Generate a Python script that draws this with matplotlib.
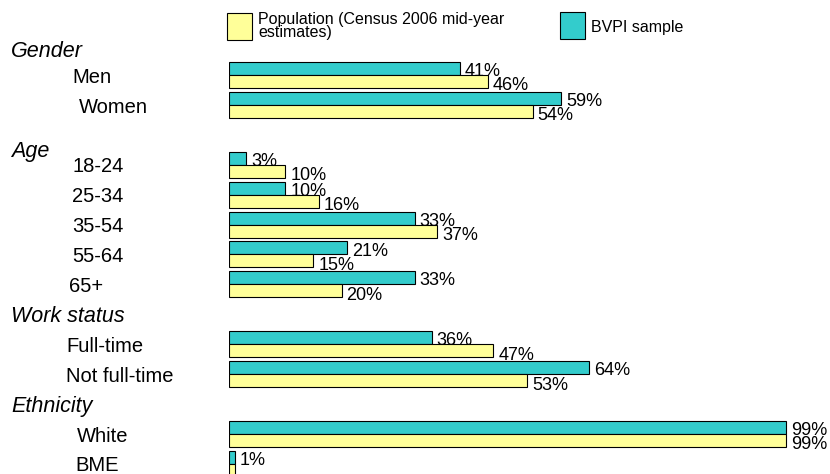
import matplotlib
matplotlib.use("Agg")
import matplotlib.pyplot as plt
from matplotlib.patches import Rectangle
from matplotlib.transforms import blended_transform_factory

# Dados
groups = ["Gender", "Age", "Work status", "Ethnicity"]
group_sizes = [2, 5, 2, 2]
categories = ["Men", "Women", "18-24", "25-34", "35-54", "55-64", "65+",
              "Full-time", "Not full-time", "White", "BME"]
bvpi = [41, 59, 3, 10, 33, 21, 33, 36, 64, 99, 1]
population = [46, 54, 10, 16, 37, 15, 20, 47, 53, 99, 1]

teal = "#33CCCC"
yellow = "#FFFF99"

plt.rcParams['font.family'] = ['Liberation Sans', 'DejaVu Sans']

W, H = 830, 474
fig = plt.figure(figsize=(W / 100, H / 100), dpi=100)

# eixo ocupando a area das barras (x = 0% em 229 px, 5.626 px por %)
ax = fig.add_axes([229 / W, 0, 1 - 229 / W, 1])
ax.set_xlim(0, (W - 229) / 5.626)
slot = 29.9  # px por linha
ax.set_ylim((H - 75) / slot, -75 / slot)
ax.axis('off')

bar_h = 13 / slot

# posicao das linhas: um espaco vazio antes de cada grupo (titulo)
rows = []
header_rows = []
pos = -1
for size in group_sizes:
    header_rows.append(pos)
    rows.extend(range(pos + 1, pos + 1 + size))
    pos = pos + 1 + size

# ajustes finos dos titulos e posicoes x dos rotulos (px)
header_nudge = [0.13, 0.47, 0.0, 0.0]
label_x = [72, 79, 72, 72, 72, 72, 69, 66, 66, 77, 75]

ax.barh([r - bar_h / 2 for r in rows], bvpi, height=bar_h, left=0,
        color=teal, edgecolor='black', linewidth=0.8)
ax.barh([r + bar_h / 2 for r in rows], population, height=bar_h, left=0,
        color=yellow, edgecolor='black', linewidth=0.8)

for r, b, p in zip(rows, bvpi, population):
    ax.annotate(f"{b}%", xy=(b, r), xytext=(3.6, -0.8), textcoords='offset points',
                ha='left', va='baseline', fontsize=13)
    ax.annotate(f"{p}%", xy=(p, r + bar_h), xytext=(3.6, -1.8), textcoords='offset points',
                ha='left', va='baseline', fontsize=13)

trans = blended_transform_factory(fig.transFigure, ax.transData)
for r, name, lx in zip(rows, categories, label_x):
    ax.text(lx / W, r + 0.26, name, transform=trans, ha='left', va='baseline',
            fontsize=14.5, clip_on=False)

for r, name, dy in zip(header_rows, groups, header_nudge):
    ax.text(11 / W, r + 0.27 + dy, name, transform=trans, ha='left', va='baseline',
            fontsize=15.5, style='italic', clip_on=False)

# legenda
fig.add_artist(Rectangle((227 / W, 1 - 40 / H), 25 / W, 27 / H, transform=fig.transFigure,
                         facecolor=yellow, edgecolor='black', linewidth=0.8))
fig.text(258 / W, 1 - 12 / H, "Population (Census 2006 mid-year\nestimates)",
         ha='left', va='top', fontsize=11.5, linespacing=0.87)
fig.add_artist(Rectangle((560 / W, 1 - 39 / H), 25 / W, 27 / H, transform=fig.transFigure,
                         facecolor=teal, edgecolor='black', linewidth=0.8))
fig.text(591 / W, 1 - 32 / H, "BVPI sample", ha='left', va='baseline', fontsize=11.5)

fig.savefig("out.png", dpi=100)
